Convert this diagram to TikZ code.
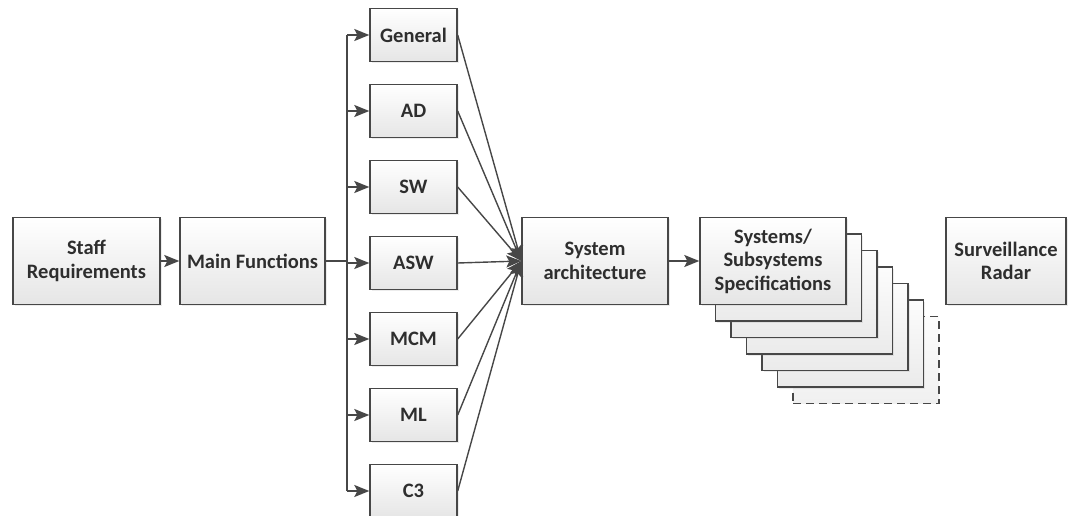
\documentclass[tikz,border=0pt]{standalone}
\usepackage{fontspec}
\setmainfont{Carlito}
\usetikzlibrary{arrows.meta,shadows}
\begin{document}
\begin{tikzpicture}[x=1pt,y=-1pt,
  box/.style={draw=black!72, line width=1.4pt, top color=white, bottom color=black!10,
    font=\fontsize{20.5}{23.5}\selectfont\bfseries, text=black!82, align=center, inner sep=0pt,
    drop shadow={opacity=0.15, shadow xshift=1.5pt, shadow yshift=-1.5pt}},
  stackbox/.style={box, top color=black!1, bottom color=black!8},
  conn/.style={draw=black!72, line width=1.4pt},
  arr/.style={conn, -{Stealth[length=15pt,width=12pt,inset=3pt]}}]
\useasboundingbox (0,0) rectangle (1076,516);
% main row
\node[box, minimum width=147pt, minimum height=87pt] (staff) at (86.5,261) {Staff\\Requirements};
\node[box, minimum width=145pt, minimum height=87pt] (main) at (252.5,261) {Main Functions};
\node[box, minimum width=146pt, minimum height=87pt] (arch) at (595,261) {System\\architecture};
% stacked specification boxes
\node[draw=black!72, line width=1.4pt, dash pattern=on 8pt off 5pt, top color=black!1, bottom color=black!6,
  minimum width=146pt, minimum height=87pt, inner sep=0pt] (st6) at (773+15.5*6,261+16.5*6) {};
\foreach \k in {5,4,3,2,1} {
  \node[stackbox, minimum width=146pt, minimum height=87pt] (st\k) at (773+15.5*\k,261+16.5*\k) {};
}
\node[box, minimum width=146pt, minimum height=87pt] (spec) at (773,261) {Systems/\\Subsystems\\Specifications};
\node[box, minimum width=120pt, minimum height=87pt] (radar) at (1006,261) {Surveillance\\Radar};
% function boxes
\foreach \n/\t/\y in {general/General/35, ad/AD/111, sw/SW/187, asw/ASW/263, mcm/MCM/339, ml/ML/415, cthree/C3/491} {
  \node[box, minimum width=87pt, minimum height=53pt] (\n) at (413.5,\y) {\t};
}
\coordinate (trunk) at (347,0);
\draw[arr] (staff) -- (main);
\draw[conn] (main.east) -- (main.east -| trunk);
\draw[conn] (trunk |- general.west) -- (trunk |- cthree.west);
\foreach \n in {general,ad,sw,asw,mcm,ml,cthree} {
  \draw[arr] (trunk |- \n.west) -- (\n.west);
  \draw[arr] (\n.east) -- (arch.west);
}
\draw[arr] (arch) -- (spec);
\end{tikzpicture}
\end{document}
